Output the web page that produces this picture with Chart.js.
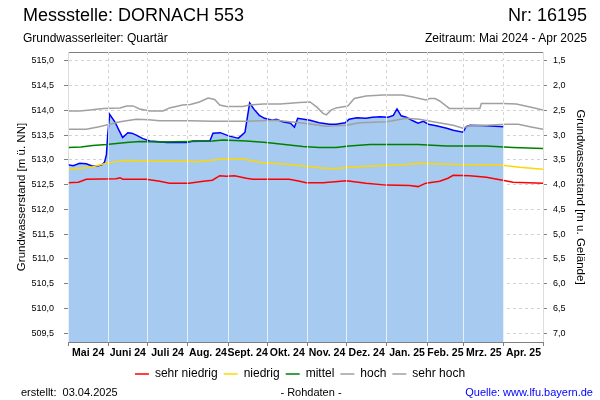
<!DOCTYPE html>
<html>
<head>
<meta charset="utf-8">
<script src="https://cdn.jsdelivr.net/npm/chart.js@4"></script>
<style>
  body { margin: 0; background: #fff; font-family: "Liberation Sans", Arial, sans-serif; }
  #wrap { position: relative; width: 600px; height: 400px; overflow: hidden; }
  #chart { position: absolute; left: 0; top: 0; }
  .txt { position: absolute; white-space: nowrap; color: #000; line-height: 1; }
</style>
</head>
<body>
<div id="wrap">
  <canvas id="chart" width="600" height="400"></canvas>
  <div class="txt" style="left:23px; top:6px; font-size:18px;">Messstelle: DORNACH 553</div>
  <div class="txt" style="right:13px; top:6px; font-size:18px;">Nr: 16195</div>
  <div class="txt" style="left:23px; top:32px; font-size:12px;">Grundwasserleiter: Quartär</div>
  <div class="txt" style="right:13px; top:32px; font-size:12px;">Zeitraum: Mai 2024 - Apr 2025</div>
  <div class="txt" style="left:21px; top:387px; font-size:11px;">erstellt:&nbsp;&nbsp;03.04.2025</div>
  <div class="txt" style="left:311px; top:387px; font-size:11px; transform:translateX(-50%);">- Rohdaten -</div>
  <div class="txt" style="right:7px; top:387px; font-size:11px; color:#0000ff;">Quelle: www.lfu.bayern.de</div>
</div>
<script>
// x values are days since 1 May 2024
const MONTH_STARTS = [0, 31, 61, 92, 123, 153, 184, 214, 245, 276, 304, 335, 365];
const MONTH_LABELS = ["Mai 24", "Juni 24", "Juli 24", "Aug. 24", "Sept. 24", "Okt. 24",
                      "Nov. 24", "Dez. 24", "Jan. 25", "Feb. 25", "Mrz. 25", "Apr. 25"];
const Y_TICKS = [509.5, 510.0, 510.5, 511.0, 511.5, 512.0, 512.5, 513.0, 513.5, 514.0, 514.5, 515.0];
const Y2_TICKS = [1.5, 2.0, 2.5, 3.0, 3.5, 4.0, 4.5, 5.0, 5.5, 6.0, 6.5, 7.0];

// measured level (m ü. NN)
const LEVEL_DAYS = [0, 4, 9, 14, 18, 22, 26, 28, 29.5, 30.5, 32, 36, 39.7, 42, 46, 49, 52.5, 57.6, 62.8, 68,
  76, 91, 96, 109, 111.4, 117, 124, 129, 131, 134, 136, 139.6, 143, 147, 151, 157, 160, 165, 171, 174,
  176.5, 186, 193, 201, 206, 213, 216, 222, 229, 234, 240, 246, 250, 252.8, 256, 260, 265, 269, 273, 277,
  283, 291, 296, 303.5, 306, 309, 322, 335];
const LEVEL = [512.90, 512.88, 512.93, 512.92, 512.88, 512.87, 512.90, 512.95, 513.10, 513.50, 513.92, 513.77,
  513.57, 513.45, 513.55, 513.54, 513.50, 513.43, 513.38, 513.37, 513.35, 513.35, 513.38, 513.38, 513.54,
  513.55, 513.48, 513.45, 513.44, 513.51, 513.56, 514.15, 514.02, 513.90, 513.84, 513.80, 513.82, 513.77,
  513.74, 513.66, 513.84, 513.80, 513.75, 513.72, 513.72, 513.75, 513.82, 513.85, 513.84, 513.86, 513.87,
  513.86, 513.90, 514.03, 513.89, 513.86, 513.79, 513.74, 513.78, 513.72, 513.69, 513.64, 513.60, 513.56,
  513.67, 513.70, 513.69, 513.67];

// statistics
const SEHR_HOCH_DAYS = [0, 9, 17, 27, 40, 45, 50, 55, 63, 73, 78, 88, 94, 101, 107.6, 112.7, 116.6, 121.7,
  134.5, 139.6, 150, 163, 173, 178, 186, 191, 196, 198.5, 202.4, 206, 215, 220, 229, 242, 257, 265, 275,
  278, 282, 285.6, 289.5, 293, 316.5, 317.6, 334, 344.5, 355, 365];
const SEHR_HOCH = [513.99, 513.99, 514.01, 514.04, 514.05, 514.09, 514.09, 514.03, 513.99, 513.99, 514.05,
  514.11, 514.12, 514.17, 514.25, 514.22, 514.11, 514.08, 514.08, 514.11, 514.13, 514.13, 514.15, 514.16,
  514.17, 514.07, 513.94, 513.91, 514.01, 514.05, 514.09, 514.24, 514.29, 514.31, 514.31, 514.27, 514.21,
  514.24, 514.24, 514.19, 514.11, 514.04, 514.04, 514.14, 514.14, 514.13, 514.07, 514.01];

const HOCH_DAYS = [0, 14, 24, 32, 40, 52.5, 62, 70.5, 93.5, 111, 137, 160, 178, 190, 198.5, 214, 224, 245,
  260, 270, 280.5, 296, 303.5, 308.7, 321.5, 337, 346, 355, 365];
const HOCH = [513.62, 513.62, 513.67, 513.72, 513.77, 513.82, 513.81, 513.79, 513.79, 513.78, 513.78, 513.80,
  513.75, 513.71, 513.68, 513.70, 513.75, 513.77, 513.84, 513.82, 513.77, 513.70, 513.64, 513.69, 513.70,
  513.72, 513.72, 513.67, 513.62];

const MITTEL_DAYS = [0, 10, 19, 29.5, 45, 55, 70, 93.5, 111, 119, 137, 152.5, 170, 180.6, 193, 206, 216, 232,
  269, 291, 321, 342, 365];
const MITTEL = [513.25, 513.26, 513.29, 513.31, 513.35, 513.37, 513.36, 513.37, 513.38, 513.40, 513.38, 513.35,
  513.30, 513.27, 513.25, 513.25, 513.28, 513.31, 513.31, 513.28, 513.28, 513.25, 513.23];

const NIEDRIG_DAYS = [0, 10, 19, 29.5, 40, 45, 55, 63, 93.5, 100, 119, 134.5, 150, 168, 185.7, 193, 203.6, 216,
  229, 257.4, 269.5, 303.5, 331.7, 337, 347, 365];
const NIEDRIG = [512.81, 512.83, 512.86, 512.93, 512.98, 512.99, 512.98, 512.97, 512.97, 512.96, 513.02, 513.02,
  512.94, 512.91, 512.86, 512.84, 512.82, 512.85, 512.87, 512.90, 512.93, 512.90, 512.90, 512.88, 512.85, 512.81];

const SEHR_NIEDRIG_DAYS = [0, 8, 14, 37, 40, 42, 60, 70.5, 78, 93, 104, 111, 116.6, 121.7, 128, 137, 142, 170,
  178, 183, 196, 214, 229, 244.7, 262.6, 269, 275, 285.6, 292, 296, 308.7, 321.5, 334, 342, 365];
const SEHR_NIEDRIG = [512.54, 512.55, 512.61, 512.62, 512.64, 512.61, 512.61, 512.57, 512.53, 512.53, 512.57,
  512.59, 512.68, 512.67, 512.68, 512.63, 512.61, 512.61, 512.57, 512.54, 512.54, 512.58, 512.53, 512.49,
  512.48, 512.46, 512.53, 512.57, 512.63, 512.69, 512.68, 512.65, 512.59, 512.55, 512.53];

const FONT = '"Liberation Sans", Arial, sans-serif';
Chart.defaults.font.family = FONT;
Chart.defaults.color = "#000";

const toPoints = (days, vals) => days.map((d, i) => ({ x: d, y: vals[i] }));
const comma = v => Number(v).toFixed(1).replace(".", ",");
const monthMids = MONTH_STARTS.slice(0, -1).map((d, i) => (d + MONTH_STARTS[i + 1]) / 2);

function statLine(label, days, vals, color) {
  return { label, data: toPoints(days, vals), borderColor: color, backgroundColor: color,
           borderWidth: 1.5, pointRadius: 0, fill: false, xAxisID: "x", yAxisID: "y" };
}

const ctx = document.getElementById("chart").getContext("2d");
new Chart(ctx, {
  type: "line",
  data: {
    datasets: [
      statLine("sehr niedrig", SEHR_NIEDRIG_DAYS, SEHR_NIEDRIG, "#ff0000"),
      statLine("niedrig", NIEDRIG_DAYS, NIEDRIG, "#ffd700"),
      statLine("mittel", MITTEL_DAYS, MITTEL, "#008000"),
      statLine("hoch", HOCH_DAYS, HOCH, "#a0a0a0"),
      statLine("sehr hoch", SEHR_HOCH_DAYS, SEHR_HOCH, "#a0a0a0"),
      {
        label: "Grundwasserstand",
        data: toPoints(LEVEL_DAYS, LEVEL),
        borderColor: "#0000ff",
        backgroundColor: "#a6caf0",
        borderWidth: 1.5,
        pointRadius: 0,
        fill: "start",
        xAxisID: "x",
        yAxisID: "y"
      }
    ]
  },
  options: {
    responsive: false,
    animation: false,
    layout: { padding: { top: 52, bottom: 10, left: 0, right: 0 } },
    plugins: {
      legend: {
        position: "bottom",
        labels: {
          filter: item => item.datasetIndex < 5,
          usePointStyle: true,
          pointStyle: "line",
          pointStyleWidth: 14,
          padding: 6,
          font: { size: 12 }
        }
      },
      tooltip: { enabled: false }
    },
    scales: {
      x: {
        type: "linear", position: "bottom", min: 0, max: 365, weight: 0,
        afterBuildTicks: a => { a.ticks = MONTH_STARTS.map(v => ({ value: v })); },
        afterFit: a => { a.height = 4; },
        ticks: { display: false },
        grid: { color: "#646464", tickColor: "#808080", tickLength: 4 },
        border: { color: "#808080", dash: [3, 3] }
      },
      // light month lines drawn over the filled area
      xover: {
        type: "linear", position: "bottom", min: 0, max: 365, weight: 1,
        afterBuildTicks: a => { a.ticks = MONTH_STARTS.map(v => ({ value: v })); },
        afterFit: a => { a.height = 0; },
        ticks: { display: false },
        grid: { z: 1, color: "rgba(255,255,255,0.72)", drawTicks: false },
        border: { display: false }
      },
      xlab: {
        type: "linear", position: "bottom", min: 0, max: 365, weight: 2,
        afterBuildTicks: a => { a.ticks = monthMids.map(v => ({ value: v })); },
        afterFit: a => { a.height = 16; },
        ticks: { callback: (v, i) => MONTH_LABELS[i], autoSkip: false, maxRotation: 0,
                 padding: 1, font: { size: 10.5, weight: "bold" } },
        grid: { display: false, drawTicks: false },
        border: { display: false }
      },
      xtop: {
        type: "linear", position: "top", min: 0, max: 365,
        afterFit: a => { a.height = 0; },
        ticks: { display: false },
        grid: { display: false, drawTicks: false },
        border: { color: "#808080" }
      },
      y: {
        position: "left", min: 509.32, max: 515.18,
        afterBuildTicks: a => { a.ticks = Y_TICKS.map(v => ({ value: v })); },
        afterFit: a => { a.width = 68; },
        ticks: { callback: comma, padding: 10, font: { size: 9 } },
        grid: { color: "#d2d2d2", tickColor: "#808080", tickLength: 4 },
        border: { color: "#808080", dash: [3, 3] },
        title: { display: true, text: "Grundwasserstand [m ü. NN]", font: { size: 11.5 },
                 padding: { top: 15, bottom: 0 } }
      },
      y2: {
        position: "right", reverse: true, min: 1.32, max: 7.18,
        afterBuildTicks: a => { a.ticks = Y2_TICKS.map(v => ({ value: v })); },
        afterFit: a => { a.width = 57; },
        ticks: { callback: comma, padding: 6, font: { size: 9 } },
        grid: { drawOnChartArea: false, tickColor: "#808080", tickLength: 4 },
        border: { color: "#808080" },
        title: { display: true, text: "Grundwasserstand [m u. Gelände]", font: { size: 11.5 },
                 padding: { top: 13, bottom: 0 } }
      }
    }
  }
});
</script>
</body>
</html>
